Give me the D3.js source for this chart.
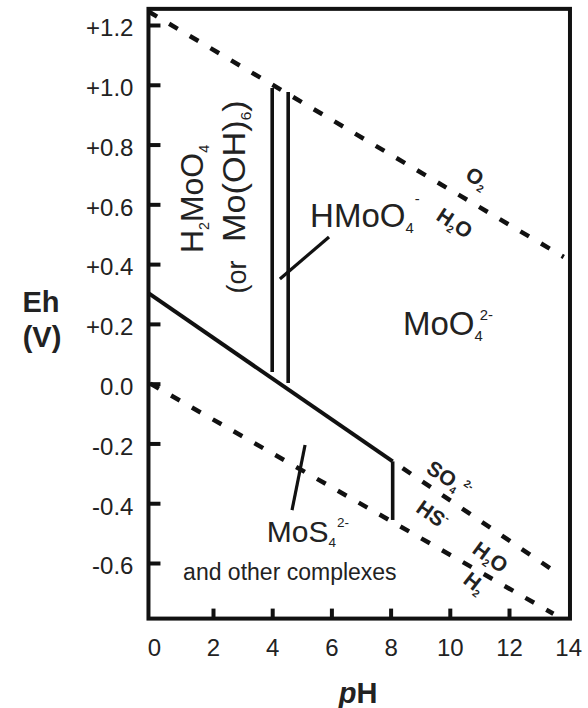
<!DOCTYPE html>
<html>
<head>
<meta charset="utf-8">
<script src="https://cdn.jsdelivr.net/npm/d3@7"></script>
<style>
  html, body { margin: 0; padding: 0; background: #fff; }
  svg { display: block; font-family: "Liberation Sans", Arial, Helvetica, sans-serif; }
</style>
</head>
<body>
<svg id="chart" width="588" height="708"></svg>
<script>
// Eh–pH stability fields of dissolved molybdenum species

// axes
const phTicks = [0, 2, 4, 6, 8, 10, 12, 14];
const phTickLabels = ["0", "2", "4", "6", "8", "10", "12", "14"];
const ehTicks = [1.2, 1.0, 0.8, 0.6, 0.4, 0.2, 0.0, -0.2, -0.4, -0.6];
const ehTickLabels = ["+1.2", "+1.0", "+0.8", "+0.6", "+0.4", "+0.2", "0.0", "-0.2", "-0.4", "-0.6"];
const phRange = [-0.18, 14.06];
const ehRange = [-0.786, 1.254];

// water stability limits (pH, Eh)
const o2H2oLimit = [[-0.18, 1.245], [13.85, 0.424]];
const h2oH2Limit = [[-0.12, 0.0], [13.5, -0.77]];
// sulfate / sulfide boundary
const so4HsLimit = [[8.07, -0.26], [13.72, -0.64]];

// molybdenum species boundaries
const speciesBoundaries = [
  [[-0.18, 0.303], [8.07, -0.26]],
  [[8.07, -0.26], [8.07, -0.456]],
  [[4.0, 0.989], [4.0, 0.039]],
  [[4.54, 0.976], [4.54, 0.002]]
];
// leader lines from labels to narrow fields
const leaderLines = [
  [[5.92, 0.491], [4.26, 0.350]],
  [[5.11, -0.205], [4.67, -0.423]]
];

// field labels: text parts ([text, "sub"|"sup"]) and anchor (pH, Eh)
const fieldLabels = [
  { id: "hmoo4", parts: [["HMoO"], ["4", "sub"], ["-", "sup"]], ph: 5.28, eh: 0.524 },
  { id: "moo4",  parts: [["MoO"], ["4", "sub"], ["2-", "sup"]], ph: 8.42, eh: 0.163 },
  { id: "mos4",  parts: [["MoS"], ["4", "sub"], ["2-", "sup"]], ph: 3.82, eh: -0.530 },
  { id: "other", parts: [["and other complexes"]], ph: 0.99, eh: -0.657 },
  { id: "h2moo4", parts: [["H"], ["2", "sub"], ["MoO"], ["4", "sub"]], ph: 1.66, eh: 0.437 },
  { id: "or",    parts: [["(or"]], ph: 3.10, eh: 0.302 },
  { id: "mooh6", parts: [["Mo(OH)"], ["6", "sub"], [")"]], ph: 3.08, eh: 0.474 }
];
// couple labels along the dashed limits
const limitLabels = [
  { id: "o2",   parts: [["O"], ["2", "sub"]], ph: 10.48, eh: 0.688 },
  { id: "h2oU", parts: [["H"], ["2", "sub"], ["O"]], ph: 9.50, eh: 0.551 },
  { id: "so4",  parts: [["SO"], ["4", "sub"], ["2-", "sup"]], ph: 9.16, eh: -0.295 },
  { id: "hs",   parts: [["HS"], ["-", "sup"]], ph: 8.82, eh: -0.426 },
  { id: "h2oL", parts: [["H"], ["2", "sub"], ["O"]], ph: 10.72, eh: -0.563 },
  { id: "h2",   parts: [["H"], ["2", "sub"]], ph: 10.41, eh: -0.664 }
];

// ---- styles ----
const ink = "#111";
const textInk = "#222";
const fieldStyle = {
  hmoo4: { size: 33, rotate: 0, supDx: 1, supRise: 0.7 },
  moo4:  { size: 33, rotate: 0, supDx: -3, supRise: 0.45 },
  mos4:  { size: 30, rotate: 0, supDx: 1, supRise: 0.5 },
  other: { size: 23, rotate: 0 },
  h2moo4:{ size: 31, rotate: -90, stretch: 1.03 },
  or:    { size: 27, rotate: -90, stretch: 1.0 },
  mooh6: { size: 32, rotate: -90, stretch: 1.07 }
};
const limitStyle = {
  o2:   { rotate: 33 }, h2oU: { rotate: 33 }, so4: { rotate: 33 },
  hs:   { rotate: 35 }, h2oL: { rotate: 36 }, h2:  { rotate: 38 }
};

const svg = d3.select("#chart");
const x = d3.scaleLinear().domain([0, 14]).range([153.8, 568.2]);
const y = d3.scaleLinear().domain([-0.6, 1.2]).range([563, 25]);
const line = d3.line().x(d => x(d[0])).y(d => y(d[1]));

// chemical formula text with sub/superscripts
function chemText(g, parts, fs, opt = {}) {
  const t = g.append("text").attr("font-size", fs).attr("fill", textInk);
  let shift = 0;
  let prev = null;
  parts.forEach(([s, kind]) => {
    let target = 0;
    if (kind === "sub") target = 0.18 * fs;
    if (kind === "sup") target = -(opt.supRise || 0.5) * fs;
    const ts = t.append("tspan").text(s).attr("dy", target - shift);
    if (kind) ts.attr("font-size", (opt.small || 0.45) * fs);
    if (kind === "sup" && prev === "sub") ts.attr("dx", opt.supDx != null ? opt.supDx : 0);
    shift = target;
    prev = kind;
  });
  return t;
}

// frame
svg.append("rect")
  .attr("x", x(phRange[0])).attr("y", y(ehRange[1]))
  .attr("width", x(phRange[1]) - x(phRange[0]))
  .attr("height", y(ehRange[0]) - y(ehRange[1]))
  .attr("fill", "none").attr("stroke", ink).attr("stroke-width", 4);

// y axis, inward ticks
const yAxis = svg.append("g")
  .attr("transform", `translate(${x(phRange[0])},0)`)
  .call(d3.axisLeft(y).tickValues(ehTicks)
    .tickFormat((d, i) => ehTickLabels[i]).tickSize(-12).tickPadding(15));
yAxis.select(".domain").remove();
yAxis.selectAll(".tick line").attr("stroke", ink).attr("stroke-width", 4);
yAxis.selectAll(".tick text").attr("font-size", 24).attr("fill", textInk)
  .attr("font-family", "Liberation Sans, Arial, sans-serif").attr("dy", "0.45em");

// x axis, inward ticks
const xAxis = svg.append("g")
  .attr("transform", `translate(0,${y(ehRange[0])})`)
  .call(d3.axisBottom(x).tickValues(phTicks)
    .tickFormat((d, i) => phTickLabels[i]).tickSize(-10).tickPadding(20));
xAxis.select(".domain").remove();
xAxis.selectAll(".tick line").attr("stroke", ink).attr("stroke-width", 4)
  .attr("display", d => (d === 0 || d === 14) ? "none" : null);
xAxis.selectAll(".tick text").attr("font-size", 24).attr("fill", textInk)
  .attr("font-family", "Liberation Sans, Arial, sans-serif");

// axis titles
svg.append("text").attr("x", 41).attr("y", 312).attr("text-anchor", "middle")
  .attr("font-size", 29).attr("font-weight", "bold").attr("fill", textInk).text("Eh");
svg.append("text").attr("x", 42).attr("y", 347).attr("text-anchor", "middle")
  .attr("font-size", 29).attr("font-weight", "bold").attr("fill", textInk).text("(V)");
const phTitle = svg.append("text").attr("x", 358).attr("y", 703).attr("text-anchor", "middle")
  .attr("font-size", 29).attr("font-weight", "bold").attr("fill", textInk);
phTitle.append("tspan").attr("font-style", "italic").text("p");
phTitle.append("tspan").text("H");

// dashed limits
[o2H2oLimit, h2oH2Limit].forEach(seg => {
  svg.append("path").attr("d", line(seg)).attr("fill", "none")
    .attr("stroke", ink).attr("stroke-width", 4.5).attr("stroke-dasharray", "10,14");
});
svg.append("path").attr("d", line(so4HsLimit)).attr("fill", "none")
  .attr("stroke", ink).attr("stroke-width", 4.5).attr("stroke-dasharray", "10,14")
  .attr("stroke-dashoffset", -12);

// species boundaries
speciesBoundaries.forEach((seg, i) => {
  svg.append("path").attr("d", line(seg)).attr("fill", "none")
    .attr("stroke", ink).attr("stroke-width", i === 0 ? 4 : 3.6)
    .attr("stroke-linecap", "butt");
});
leaderLines.forEach(seg => {
  svg.append("path").attr("d", line(seg)).attr("fill", "none")
    .attr("stroke", ink).attr("stroke-width", 3.2);
});

// field labels
fieldLabels.forEach(l => {
  const st = fieldStyle[l.id];
  const g = svg.append("g")
    .attr("transform", `translate(${x(l.ph)},${y(l.eh)}) rotate(${st.rotate}) scale(${st.stretch || 1},1)`);
  chemText(g, l.parts, st.size, st);
});

// couple labels
limitLabels.forEach(l => {
  const st = limitStyle[l.id];
  const g = svg.append("g")
    .attr("transform", `translate(${x(l.ph)},${y(l.eh)}) rotate(${st.rotate})`);
  chemText(g, l.parts, 21, { small: 0.5, supRise: 0.45, supDx: 3 }).attr("font-weight", "bold");
});
</script>
</body>
</html>
